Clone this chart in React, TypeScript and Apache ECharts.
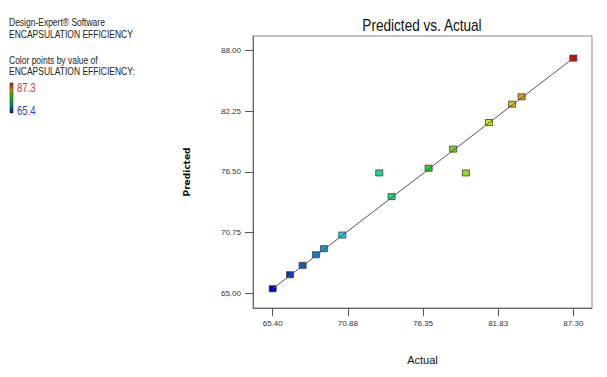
import React, { useEffect, useRef } from "react";
import * as echarts from "echarts";

const actual = [65.4, 66.66, 67.58, 68.55, 69.13, 70.47, 73.16, 74.06, 76.76, 78.55, 79.47, 81.15, 82.84, 83.53, 87.3];
const predicted = [65.41, 66.74, 67.63, 68.64, 69.21, 70.51, 76.4, 74.15, 76.85, 78.66, 76.4, 81.19, 82.93, 83.63, 87.3];
const fitLine = [[65.4, 65.4], [87.3, 87.3]];
const xTicks = [65.4, 70.875, 76.35, 81.825, 87.3];
const xTickLabels = ["65.40", "70.88", "76.35", "81.83", "87.30"];
const yTicks = [65.0, 70.75, 76.5, 82.25, 88.0];
const yTickLabels = ["65.00", "70.75", "76.50", "82.25", "88.00"];
const colorMin = 65.4;
const colorMax = 87.3;

const FONT = "Liberation Sans, Arial, sans-serif";

export default function App() {
  const ref = useRef<HTMLDivElement>(null);
  useEffect(() => {
    if (!ref.current) return;
    const chart = echarts.init(ref.current, null, { renderer: "svg" });
    const pts = actual.map((a, i) => [a, predicted[i]]);
    const leftText = (t: string, y: number, extra: any = {}) => ({
      type: "text",
      x: 9,
      y,
      scaleX: 0.85,
      style: { text: t, fontSize: 10, fontFamily: FONT, fill: "#222", verticalAlign: "middle", ...extra },
    });
    chart.setOption({
      animation: false,
      backgroundColor: "#ffffff",
      grid: {
        left: 253,
        top: 36,
        right: 15,
        bottom: 69,
        show: true,
        borderColor: "#8a8a8a",
        borderWidth: 1,
        containLabel: false,
      },
      visualMap: {
        type: "continuous",
        show: false,
        min: colorMin,
        max: colorMax,
        dimension: 0,
        seriesIndex: 0,
        inRange: { color: ["#0000c0", "#20e0f0", "#20d020", "#e8e820", "#e00000"] },
      },
      xAxis: {
        type: "value",
        min: 63.965,
        max: 88.66,
        name: "Actual",
        nameLocation: "middle",
        nameGap: 46,
        nameTextStyle: { fontSize: 11, fontFamily: FONT, color: "#111" },
        splitLine: { show: false },
        axisLine: { show: true, lineStyle: { color: "#666", width: 1 } },
        axisTick: { show: true, length: 8, customValues: xTicks, lineStyle: { color: "#555" } },
        axisLabel: {
          customValues: xTicks,
          margin: 11,
          fontSize: 8,
          fontFamily: FONT,
          color: "#333",
          formatter: (v: number) => {
            const i = xTicks.findIndex((t) => Math.abs(t - v) < 1e-6);
            return i >= 0 ? xTickLabels[i] : "";
          },
        },
      },
      yAxis: {
        type: "value",
        min: 63.58,
        max: 89.4,
        name: "Predicted",
        nameLocation: "middle",
        nameRotate: 90,
        nameGap: 62,
        nameTextStyle: { fontSize: 9, fontWeight: "bold", fontFamily: "DejaVu Sans, sans-serif", color: "#111" },
        splitLine: { show: false },
        axisLine: { show: true, lineStyle: { color: "#666", width: 1 } },
        axisTick: { show: true, length: 8, customValues: yTicks, lineStyle: { color: "#555" } },
        axisLabel: {
          customValues: yTicks,
          margin: 12,
          fontSize: 8,
          fontFamily: FONT,
          color: "#333",
          formatter: (v: number) => {
            const i = yTicks.findIndex((t) => Math.abs(t - v) < 1e-6);
            return i >= 0 ? yTickLabels[i] : "";
          },
        },
      },
      series: [
        {
          type: "scatter",
          data: pts,
          symbol: "rect",
          symbolSize: [7, 6],
          itemStyle: { borderColor: "#3a3a3a", borderWidth: 0.8, opacity: 1 },
          z: 2,
        },
        {
          type: "line",
          data: fitLine,
          showSymbol: false,
          symbol: "none",
          lineStyle: { color: "#555", width: 1 },
          z: 3,
        },
      ],
      graphic: [
        {
          type: "text",
          x: 422,
          y: 26,
          scaleX: 0.85,
          style: {
            text: "Predicted vs. Actual",
            fontSize: 16,
            fontFamily: FONT,
            fill: "#111",
            align: "center",
            verticalAlign: "middle",
          },
        },
        leftText("Design-Expert® Software", 23),
        leftText("ENCAPSULATION EFFICIENCY", 34.5),
        leftText("Color points by value of", 61),
        leftText("ENCAPSULATION EFFICIENCY:", 72),
        {
          type: "rect",
          shape: { x: 10, y: 83, width: 3, height: 30 },
          style: {
            fill: new echarts.graphic.LinearGradient(0, 0, 0, 1, [
              { offset: 0, color: "#e00000" },
              { offset: 0.25, color: "#a0a000" },
              { offset: 0.5, color: "#00c000" },
              { offset: 0.75, color: "#0080a0" },
              { offset: 1, color: "#0000c0" },
            ]),
            stroke: "#333",
            lineWidth: 0.6,
          },
        },
        {
          type: "text",
          x: 17,
          y: 87.5,
          scaleX: 0.8,
          style: { text: "87.3", fontSize: 12, fontFamily: FONT, fill: "#d03c3c", verticalAlign: "middle" },
        },
        {
          type: "text",
          x: 17,
          y: 111,
          scaleX: 0.8,
          style: { text: "65.4", fontSize: 12, fontFamily: FONT, fill: "#3c3cc8", verticalAlign: "middle" },
        },
      ],
    });
    return () => chart.dispose();
  }, []);
  return (
    <div
      ref={ref}
      style={{ position: "fixed", left: 0, top: 0, width: 607, height: 377, background: "#fff" }}
    />
  );
}
